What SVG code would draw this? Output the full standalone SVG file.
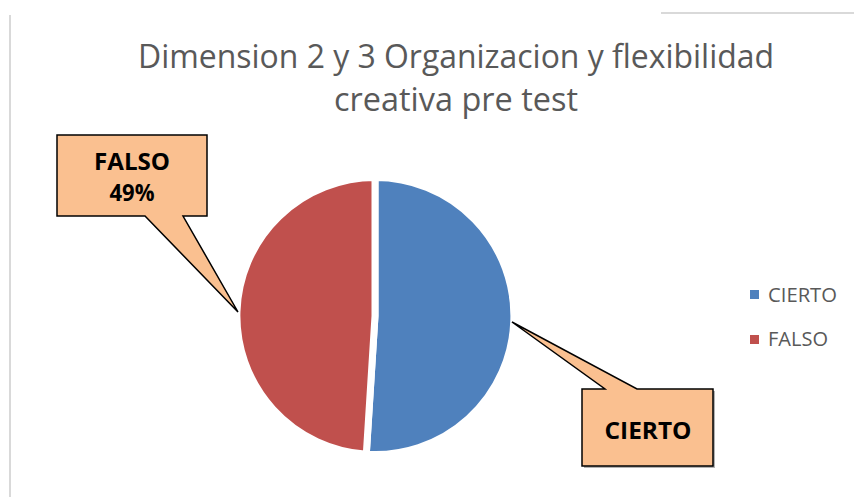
<svg xmlns="http://www.w3.org/2000/svg" width="854" height="497" viewBox="0 0 854 497">
  <style>
    .frame { stroke: #d9d9d9; stroke-width: 2; fill: none; }
    .title { font-family: "Open Sans", "Liberation Sans", sans-serif; font-size: 32px; fill: #595959; text-anchor: middle; }
    .callout { fill: #FAC090; stroke: #000; stroke-width: 1.5; stroke-linejoin: miter; }
    .shadow { fill: #7f7f7f; opacity: 0.6; }
    .clabel { font-family: "Open Sans", "Liberation Sans", sans-serif; font-weight: bold; font-size: 24px; fill: #000; text-anchor: middle; }
    .legend { font-family: "Open Sans", "Liberation Sans", sans-serif; font-size: 20px; fill: #595959; }
    .slice { stroke: #fff; stroke-width: 7; stroke-linejoin: miter; }
  </style>
  <rect width="854" height="497" fill="#fff"/>
  <g id="frame">
    <line class="frame" x1="10" y1="15" x2="10" y2="497"/>
    <line class="frame" x1="661" y1="13" x2="854" y2="13"/>
  </g>
  <g id="title">
    <text class="title" x="456" y="68" textLength="636" lengthAdjust="spacingAndGlyphs">Dimension 2 y 3 Organizacion y flexibilidad</text>
    <text class="title" x="456" y="111" textLength="244" lengthAdjust="spacingAndGlyphs">creativa pre test</text>
  </g>
  <g id="pie">
    <path id="slice-cierto" class="slice" fill="#4F81BD" d="M375,316 L375,177.5 A138.5,138.5 0 1 1 366.3,454.2 Z"/>
    <path id="slice-falso" class="slice" fill="#C0504D" d="M375,316 L366.3,454.2 A138.5,138.5 0 0 1 375,177.5 Z"/>
  </g>
  <g id="callout-falso">
    <path class="callout" d="M57,135 H207 V216 H183 L238,312 L145,216 H57 Z"/>
    <text class="clabel" x="132" y="170" textLength="76" lengthAdjust="spacingAndGlyphs">FALSO</text>
    <text class="clabel" x="132" y="201" textLength="45" lengthAdjust="spacingAndGlyphs">49%</text>
  </g>
  <g id="callout-cierto">
    <rect class="shadow" x="584" y="391" width="131" height="77"/>
    <path class="callout" d="M582,389 H605 L512,322 L637,389 H713 V466 H582 Z"/>
    <text class="clabel" x="648" y="439" textLength="87" lengthAdjust="spacingAndGlyphs">CIERTO</text>
  </g>
  <g id="legend">
    <rect x="750" y="290" width="9" height="9" fill="#4F81BD"/>
    <text class="legend" x="768" y="302" textLength="69" lengthAdjust="spacingAndGlyphs">CIERTO</text>
    <rect x="750" y="335" width="9" height="9" fill="#C0504D"/>
    <text class="legend" x="768" y="346" textLength="60" lengthAdjust="spacingAndGlyphs">FALSO</text>
  </g>
</svg>
